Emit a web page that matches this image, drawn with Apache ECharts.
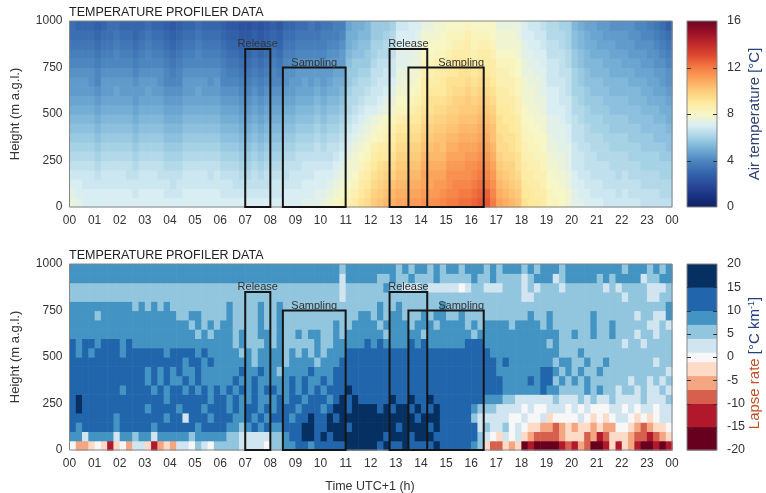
<!DOCTYPE html>
<html>
<head>
<meta charset="utf-8">
<script src="https://cdn.jsdelivr.net/npm/echarts@6/dist/echarts.min.js"></script>
<style>
  html, body { margin: 0; padding: 0; background: #ffffff; }
  #chart { width: 766px; height: 493px; }
</style>
</head>
<body>
<div id="chart"></div>
<script>
const FONT = '"Liberation Sans", Arial, Helvetica, sans-serif';

// Grid of the profiler: quarter-hour columns, 50 m layers
const hoursPerColumn = 0.25;
const layerDepth = 50;

// Air temperature, one string per quarter-hour column (00:00 first),
// lowest layer first; each character is a temperature in 0.25 degC steps.
const tempCode = '0123456789ABCDEFGHIJKLMNOPQRSTUVWXYZabcdefghijklmnopqrstuvwxyz';
const tempColumns = [
  // 00 h
  'UTSRQPONMLKJIIHGFEDD', 'TSSRQPONMLKJIIHGFEDC', 'SSRRQPONMLKJIIHGFEDC', 'SSRRQPONMLKJIHHGFEDC',
  // 01 h
  'SSRQPONMLKJIHGGFEDCB', 'SSRRQPONMLKJIIHGFEDC', 'SSRRQPONMLKJIIHGFEDD', 'SSRRQPONMLKJJIHGGFED',
  // 02 h
  'SSRRQPONMLKJIIHGFEDC', 'SSRQQPONMLKJIIHGFEDC', 'SRRQPONMLKJIIHGFEDCC', 'SSRRQPONMLKJIIHGFEDC',
  // 03 h
  'SSRRQPONMLKJJIHGGFED', 'SSRRQPONMLKJIIHGFEDC', 'SSRQQPONMLKJIHHGFEDC', 'SRRQPONMLKJIHGGFEDCB',
  // 04 h
  'SRQQPONMLKJIHGFEDCBA', 'SRRQPONMLKJIHGGFEDCB', 'SSRRQPONMLKJIIHGFEDC', 'SSRRQPONMLKJIIHGFEDC',
  // 05 h
  'SSRRQPONMLKJJIHGGFED', 'SSRRQPONMLKJIIHGFEDC', 'SSRQQPONMLKJIHHGFEDC', 'SSRRQPONMLKJIIHGFEDC',
  // 06 h
  'SRRQPONMLKJIHGGFEDCB', 'SRRQPONMLKJIHGFEDCBA', 'SRQQPONMLKJIHGFEDCBA', 'SRQPONMLKJIHGFEDCBA9',
  // 07 h
  'SRQPONMLKJIHGFEDCBA9', 'SRQQPONMLKJIHGFEDCBA', 'SRQPONMLKJIHGFEDCBA9', 'SRQQPONMLKJIHGFEDCBA',
  // 08 h
  'SRRQPONMLKJIHGGFEDCB', 'SRRQPONMLKJIHGFEDCBA', 'SSRQQPONMLKJIHHGFEDC', 'SSRRQPONMLKJIIHGFEDC',
  // 09 h
  'SSRRQQPONMLKJIIHGFED', 'TSSRRQPONMLKJJIHGFED', 'TSSRRQPONMLKJIIHGFEE', 'TTSSRQQPONMLKJIHGFED',
  // 10 h
  'UTSSRQPONMLKJIIHGFFE', 'VUTSRQQPONMLKJIIHGFE', 'WVUTSRQPONMLKKJIHGFF', 'XWVUTSRQPONMLKJIIHGF',
  // 11 h
  'YXWVVUTSRQPPONNMLKKJ', 'ZYXWVVUTSRQPPONNMLKK', 'baZYXWVUTSRQPPONMMLK', 'cbaZYXWVUTSRQPONNMLL',
  // 12 h
  'edcbaZYWVUSRRQQPOONN', 'fedcbaZXWVTSRRQQPONN', 'gfedcaZYXWUTSRRQPPON', 'hgfdcbaZYXVUTSRRQPPO',
  // 13 h
  'ihgfedcbaYXWVUUTTSSR', 'ihgfedcbaZXWVVUTTSSR', 'jihgfedcbaYXWVVUTTSS', 'jihgfedcbaZYXWVUUTTS',
  // 14 h
  'kjiihgfedcbaZZYXWVVU', 'kjiihgfedcbbaZYXWWVU', 'kjjihggfedcbaZZYXWVV', 'lkjihgffedcbaaZYXWWV',
  // 15 h
  'mlkkjihgfedcbbaZYXXW', 'mllkjihgfeddcbaaZYXW', 'nmlkjiihgfedcbbaZYXW', 'nmlkkjihgfeedcbaZZYX',
  // 16 h
  'onmlkjihgfedcbaZYXXW', 'ponmlkjihgfedcbaZYXW', 'pomlkjihgfedcbaZZYXW', 'mlkjihgffedcbaZZYXWW',
  // 17 h
  'ihgfedccbbaZZYYXWVVU', 'hgfedccbbaaZZYYXWVVU', 'gfeddcbbaaZZYYXXWVVU', 'fedcbbaaZZYYXXWWVVUU',
  // 18 h
  'baaZZYYXXWWVVVUUTTSS', 'aaZZYYXXWWVVVUUTTSSR', 'aZZYYXXWWVVUUUTTSSRR', 'ZZYYXXWWVVUUTTTSSRRQ',
  // 19 h
  'XXWWVVUUTTSSSRRRQQPP', 'XWWVVUUTTTSSSRRRQQPP', 'WWVVUUTTTSSRRRQQQPPO', 'VVUUTTTSSRRRQQQPPOOO',
  // 20 h
  'TTSSRRRQQQPPOOONNMML', 'TSSRRRQQQPPOONNMMLLK', 'SSRRQQQPPOONNMMLLKKJ', 'SRRQQQPPOONNMMLLKKJJ',
  // 21 h
  'SRRQQPPPOONNMMLLKJJI', 'RRQQQPPOONNMMLLKKJII', 'RRQQPPOONNMMLLKKJJIH', 'RQQPPPOONNMMLLKKJIIH',
  // 22 h
  'RRQQPPOONNMMLLKJJIIH', 'RQQPPOONNMMLLKKJIIHH', 'RQQPPOONNMMLLKJJIHHG', 'QQPPOONNMMLLKKJIIHGG',
  // 23 h
  'QQPPOONNMMLKKJJIHHGF', 'QQPPOONMMLLKJJIHHGFE', 'QPPOONNMMLKKJIIHGFED', 'QPPOONMMLKKJIHHGFEDB'
];

// Lapse-rate class per 50 m layer (0-50 m first), four quarter-hours per group
const lapseRows = [
  'fdde febe fdgg ebde dggf hgfh hhhg gggf hhii jjij jjjj kkkk kjkj jkjj jjkj jjjj ihec cede abaa aabc bdca abeb edba abab',
  'iigi iiig iihi igii iiih iiii ihhg gggg hhij jkkj kjkk kkkk kkjk kkjk kkjj jjjj jhgf egfg edcc ccde eecd bcee edcc bcde',
  'jijj jjji jjjj jijj jjjj ijjj jiih ijij iijj jkkj jkkk jkkk kkkk jkkk kjkj jjjj jghg ghfg feed dcde deed eddf fedc deef',
  'jjjj jjji jjjj jjji jjgj jjij jjii jiji jjji jjkj jkjk kkkk kkkk kkkj kkkj jjjj hggg ggff gffg efff fgfe fefg gfef efgg',
  'jkjj jjjj jjjj ijjj jijj jijj jiji jjij ijjj ijjj ijkk jkkk kjkj kkjk jjkj jjjj ihhh gggg fgff gggf gfgf ffgg fgfg gfgg',
  'jkjj jjjj jjjj jjji jjjj jjij jiji ijii ijij jijj jijk jkjj jjjk jjkj jkjj jjjj jjii ihhg gggg ghgg ghgh gghg gggh gggh',
  'jjjj jjjj ijjj jiji jjij ijij ijij ijij jiij ijij ijjj kjjj jjjj jjjj jjjj jjjj jjjj jiii iiij iihh hhih ihhg hhgh gghg',
  'jjjj jjjj jjjj ijij iiji jiii iiji ijii iiij ijii jijj jjjj jjjj jjjj jjjj jjjj jjjj jiii ijij jhih ihih hhhh hghh ghgh',
  'jjjj jjjj jjjj ijij ijii jiii iiij iiji ihii iiji iijj jjjj jjjj jjjj jjjj jjjj jjjj iiii iiij jihi hihh ihhh hhhh hhhg',
  'jjjj jjjj jjjj jjjj jjij jiji iiii ihii iihi iiih iiij jjjj jjjj jjjj jjjj jjjj jjjj ijii iiii ihii hhih hihh hhhh hghh',
  'jiji jjjj ijjj jjji jjjj ijii iiih ihii iihi hihi hiii jjjj jjjj jjjj jjjj jjjj jjji iiii iiii iihh hihh hhhh hhhh hhhh',
  'jijj ijjj ijii iiii iiii iiii iihi hhhi hihh hhhi hhii iiij ijii iiji jiii iiij jjii iiii iiii hihh hhhh hhhh ghhg hhhh',
  'iiii iiii iiii iiii iiii hihi iihi hhii hihh ihii hhih iiii iihi iiii hiii iiii hiii iiii iiii iihh ihhi hhih hhgh hghh',
  'iiii iiii iiii iiii iiih ihih iihh hhih hihh hhhh hhih hiii ihii iihi iihi iiih ihii iihi iiih ihhh hhhi hhih hhhh gghg',
  'iiii hiii iiii iiii ihhi ihhh hihh hhih hihh hhhh hhhh hhii hihi ihhh ihii hhih hhhh hhhh hihh ihhh hhhi hhhh hhgh hggi',
  'iiii iiii iihi hihi hhhh hhhh hihh hhih hihh hhhh hhhh hhhh hihh ihhh hhhi hhhh hhhh hhhh hhhh hhhh hhhh hhhh hhhh hhhi',
  'hhhh hhhh hhhh hhhh hhhh hhhh hhhh hhhh hhhh hhhh hhhg hhhh hhhh hhhh hhhh hhhh hhhh hhhh gghh hhhh hhhh hhhh ghhh gghh',
  'hhhh hhhh hhhh hhhh hhhh hhhh hhhh hhhh hhhh hhhh hhhg hhhh hhih hggg hggg ggfg hhgg ghhh ghgh hhgh hhhh hghg hhhh gggh',
  'iiii iiii iiii iiii iiii iiii iiii iiii iiii iiii iiig iiii ihhi hhih hhih hhhh ihhi hhhh ghii ighi iiii hihi iiig hhii',
  'iiii iiii iiii iiii iiii iiii iiii iiii iiii iiii iiih iiii iiii hihi ihih iihi iihi hiii hihi iihi iiii iiii hiii hihi'
];

// Representative lapse rate (degC per km) of each class letter
const lapseClassValue = {
  a: -17.5, b: -12.5, c: -8.5, d: -5.5, e: -2.5, f: 0,
  g: 2.5, h: 5.5, i: 8.5, j: 12.5, k: 17.5
};

// Colour scales
const tempColors = [
  '#0d2360', '#1c3383', '#2a4b9b', '#3567ad', '#4d87c0', '#74aed5', '#a6d2e6',
  '#d9eef3', '#f7f6c6', '#fee99d', '#fdcb7a', '#fba55c', '#f47c43', '#e04a30',
  '#c12a2a', '#9a1228', '#6b0620'
];
const lapseBounds = [-20, -15, -10, -7, -4, -1, 1, 4, 7, 10, 15, 20];
const lapseColors = [
  '#67001f', '#b2182b', '#d6604d', '#f4a582', '#fddbc7', '#f7f7f7',
  '#d1e5f0', '#92c5de', '#4393c3', '#2166ac', '#053061'
];

// Inner tick marks on the colour bars
const tempBarTicks = [4, 8, 12];
const lapseBarTicks = [-15, -10, -5, 0, 5, 10, 15];

// Tracer release and sampling periods (hours, top height in m, label centre hour)
const boxes = [
  { label: 'Release',  start: 7,     end: 8,     top: 850, labelAt: 7.5 },
  { label: 'Sampling', start: 8.5,   end: 11,    top: 750, labelAt: 9.75 },
  { label: 'Release',  start: 12.75, end: 14.25, top: 850, labelAt: 13.5 },
  { label: 'Sampling', start: 13.5,  end: 16.5,  top: 750, labelAt: 15.6 }
];

// ---- build series data ----
const tempData = [];
tempColumns.forEach(function (col, c) {
  if (col.length !== 20) throw new Error('temperature column ' + c + ' has ' + col.length + ' layers');
  for (let k = 0; k < col.length; k++) {
    const idx = tempCode.indexOf(col[k]);
    tempData.push([c * hoursPerColumn, k * layerDepth, idx * 0.25]);
  }
});

const lapseData = [];
lapseRows.forEach(function (row, k) {
  const cells = row.replace(/\s+/g, '');
  if (cells.length !== 96) throw new Error('lapse row ' + k + ' has ' + cells.length + ' cells');
  for (let c = 0; c < cells.length; c++) {
    lapseData.push([c * hoursPerColumn, k * layerDepth, lapseClassValue[cells[c]]]);
  }
});

// ---- renderers ----
function cellRenderer(params, api) {
  const x = api.value(0), y = api.value(1);
  const p0 = api.coord([x, y + layerDepth]);
  const p1 = api.coord([x + hoursPerColumn, y]);
  return {
    type: 'rect',
    shape: { x: p0[0], y: p0[1], width: p1[0] - p0[0] + 0.6, height: p1[1] - p0[1] + 0.6 },
    style: { fill: api.visual('color') },
    silent: true
  };
}

function boxRenderer(params, api) {
  const p0 = api.coord([api.value(0), api.value(2)]);
  const p1 = api.coord([api.value(1), 0]);
  const pl = api.coord([api.value(3), api.value(2)]);
  return {
    type: 'group',
    children: [
      {
        type: 'rect',
        shape: { x: p0[0], y: p0[1], width: p1[0] - p0[0], height: p1[1] - p0[1] },
        style: { fill: 'none', stroke: '#151515', lineWidth: 2 }
      },
      {
        type: 'text',
        x: pl[0], y: pl[1] + 0.5,
        style: {
          text: boxes[params.dataIndex].label,
          fill: '#333333',
          font: '11px ' + FONT,
          align: 'center',
          verticalAlign: 'bottom'
        }
      }
    ]
  };
}

function frameRenderer(params, api) {
  const p0 = api.coord([api.value(0), api.value(3)]);
  const p1 = api.coord([api.value(1), api.value(2)]);
  return {
    type: 'rect',
    shape: { x: p0[0], y: p0[1], width: p1[0] - p0[0], height: p1[1] - p0[1] },
    style: { fill: 'none', stroke: '#858585', lineWidth: 1 },
    silent: true
  };
}

// Frame of a colour bar with short inner ticks on both sides
function barFrameRenderer(ticks) {
  return function (params, api) {
    const p0 = api.coord([api.value(0), api.value(3)]);
    const p1 = api.coord([api.value(1), api.value(2)]);
    const children = [{
      type: 'rect',
      shape: { x: p0[0], y: p0[1], width: p1[0] - p0[0], height: p1[1] - p0[1] },
      style: { fill: 'none', stroke: '#858585', lineWidth: 1 }
    }];
    ticks.forEach(function (t) {
      const y = Math.round(api.coord([0, t])[1]) + 0.5;
      children.push({ type: 'line', shape: { x1: p0[0], y1: y, x2: p0[0] + 4, y2: y },
        style: { stroke: '#333333', lineWidth: 1 } });
      children.push({ type: 'line', shape: { x1: p1[0] - 4, y1: y, x2: p1[0], y2: y },
        style: { stroke: '#333333', lineWidth: 1 } });
    });
    return { type: 'group', children: children, silent: true };
  };
}

function tempBarRenderer(params, api) {
  const p0 = api.coord([api.value(0), api.value(3)]);
  const p1 = api.coord([api.value(1), api.value(2)]);
  return {
    type: 'rect',
    shape: { x: p0[0], y: p0[1], width: p1[0] - p0[0], height: p1[1] - p0[1] },
    style: {
      fill: new echarts.graphic.LinearGradient(0, 1, 0, 0, tempColors.map(function (c, i) {
        return { offset: i / (tempColors.length - 1), color: c };
      }))
    }
  };
}

function lapseBarRenderer(params, api) {
  const p0 = api.coord([api.value(0), api.value(3)]);
  const p1 = api.coord([api.value(1), api.value(2)]);
  return {
    type: 'rect',
    shape: { x: p0[0], y: p0[1], width: p1[0] - p0[0], height: p1[1] - p0[1] + 0.5 },
    style: { fill: lapseColors[params.dataIndex] }
  };
}

// ---- axes ----
const labelStyle = { color: '#333333', fontFamily: FONT, fontSize: 12 };

function timeAxis(gridIndex) {
  return {
    type: 'value', gridIndex: gridIndex, min: 0, max: 24, interval: 1,
    axisLine: { show: false },
    axisTick: { show: false },
    splitLine: { show: false },
    axisLabel: Object.assign({}, labelStyle, {
      margin: 8, showMinLabel: true, showMaxLabel: true,
      formatter: function (v) { return String(v % 24).padStart(2, '0'); }
    })
  };
}
function heightAxis(gridIndex) {
  return {
    type: 'value', gridIndex: gridIndex, min: 0, max: 1000, interval: 250,
    axisLine: { show: false }, axisTick: { show: false }, splitLine: { show: false },
    axisLabel: Object.assign({}, labelStyle, {
      margin: 7,
      formatter: function (v) { return String(v); }
    })
  };
}
function barXAxis(gridIndex) {
  return { type: 'value', gridIndex: gridIndex, min: 0, max: 1, show: false };
}
function barYAxis(gridIndex, min, max, interval) {
  return {
    type: 'value', gridIndex: gridIndex, min: min, max: max, interval: interval,
    position: 'right',
    axisLine: { show: false },
    splitLine: { show: false },
    axisTick: { show: false },
    axisLabel: Object.assign({}, labelStyle, {
      margin: 10, fontSize: 12.5,
      formatter: function (v) { return String(v); }
    })
  };
}

const grids = [
  { left: 69.5, top: 21,  width: 602.5, height: 186 },
  { left: 69.5, top: 264, width: 602.5, height: 186 },
  { left: 687,  top: 21,  width: 30,    height: 186 },
  { left: 687,  top: 264, width: 30,    height: 186 }
];

const option = {
  animation: false,
  backgroundColor: '#ffffff',
  grid: grids,
  xAxis: [timeAxis(0), timeAxis(1), barXAxis(2), barXAxis(3)],
  yAxis: [
    heightAxis(0), heightAxis(1),
    barYAxis(2, 0, 16, 4),
    barYAxis(3, -20, 20, 5)
  ],
  visualMap: [
    {
      type: 'continuous', show: false, seriesIndex: 0, dimension: 2,
      min: 0, max: 16, inRange: { color: tempColors }
    },
    {
      type: 'piecewise', show: false, seriesIndex: 1, dimension: 2,
      pieces: lapseColors.map(function (c, i) {
        return { min: lapseBounds[i], max: lapseBounds[i + 1], color: c };
      })
    }
  ],
  series: [
    { name: 'Air temperature', type: 'custom', xAxisIndex: 0, yAxisIndex: 0,
      renderItem: cellRenderer, data: tempData, encode: { x: 0, y: 1 }, z: 1 },
    { name: 'Lapse rate', type: 'custom', xAxisIndex: 1, yAxisIndex: 1,
      renderItem: cellRenderer, data: lapseData, encode: { x: 0, y: 1 }, z: 1 },
    { type: 'custom', xAxisIndex: 0, yAxisIndex: 0, renderItem: frameRenderer,
      data: [[0, 24, 0, 1000]], encode: { x: [0, 1], y: [2, 3] }, z: 3, silent: true },
    { type: 'custom', xAxisIndex: 1, yAxisIndex: 1, renderItem: frameRenderer,
      data: [[0, 24, 0, 1000]], encode: { x: [0, 1], y: [2, 3] }, z: 3, silent: true },
    { type: 'custom', xAxisIndex: 0, yAxisIndex: 0, renderItem: boxRenderer,
      data: boxes.map(function (b) { return [b.start, b.end, b.top, b.labelAt]; }),
      encode: { x: [0, 1], y: 2 }, z: 4, silent: true },
    { type: 'custom', xAxisIndex: 1, yAxisIndex: 1, renderItem: boxRenderer,
      data: boxes.map(function (b) { return [b.start, b.end, b.top, b.labelAt]; }),
      encode: { x: [0, 1], y: 2 }, z: 4, silent: true },
    { type: 'custom', xAxisIndex: 2, yAxisIndex: 2, renderItem: tempBarRenderer,
      data: [[0, 1, 0, 16]], encode: { x: [0, 1], y: [2, 3] }, z: 1, silent: true },
    { type: 'custom', xAxisIndex: 3, yAxisIndex: 3, renderItem: lapseBarRenderer,
      data: lapseColors.map(function (c, i) { return [0, 1, lapseBounds[i], lapseBounds[i + 1]]; }),
      encode: { x: [0, 1], y: [2, 3] }, z: 1, silent: true },
    { type: 'custom', xAxisIndex: 2, yAxisIndex: 2, renderItem: barFrameRenderer(tempBarTicks),
      data: [[0, 1, 0, 16]], encode: { x: [0, 1], y: [2, 3] }, z: 3, silent: true },
    { type: 'custom', xAxisIndex: 3, yAxisIndex: 3, renderItem: barFrameRenderer(lapseBarTicks),
      data: [[0, 1, -20, 20]], encode: { x: [0, 1], y: [2, 3] }, z: 3, silent: true }
  ],
  graphic: [
    { type: 'text', x: 69, y: 12.5, style: { text: 'TEMPERATURE PROFILER DATA', fill: '#222222',
      font: '12.5px ' + FONT, align: 'left', verticalAlign: 'middle' } },
    { type: 'text', x: 69, y: 255.5, style: { text: 'TEMPERATURE PROFILER DATA', fill: '#222222',
      font: '12.5px ' + FONT, align: 'left', verticalAlign: 'middle' } },
    { type: 'text', x: 15, y: 114, rotation: Math.PI / 2, style: { text: 'Height (m a.g.l.)',
      fill: '#333333', font: '13px ' + FONT, align: 'center', verticalAlign: 'middle' } },
    { type: 'text', x: 15, y: 357, rotation: Math.PI / 2, style: { text: 'Height (m a.g.l.)',
      fill: '#333333', font: '13px ' + FONT, align: 'center', verticalAlign: 'middle' } },
    { type: 'text', x: 370, y: 487, style: { text: 'Time UTC+1 (h)', fill: '#333333',
      font: '12.5px ' + FONT, align: 'center', verticalAlign: 'middle' } },
    { type: 'text', x: 755, y: 114, rotation: Math.PI / 2, style: {
      text: '{a|Air temperature }{b|[°C]}', align: 'center', verticalAlign: 'middle',
      rich: {
        a: { fill: '#2f4270', font: '15px ' + FONT },
        b: { fill: '#24407c', font: '15px ' + FONT }
      } } },
    { type: 'text', x: 755, y: 363, rotation: Math.PI / 2, style: {
      text: '{a|Lapse rate }{b|[°C km}{s|-1}{b|]}', align: 'center', verticalAlign: 'middle',
      rich: {
        a: { fill: '#c0502c', font: '15px ' + FONT },
        b: { fill: '#24407c', font: '15px ' + FONT },
        s: { fill: '#24407c', font: '9px ' + FONT, verticalAlign: 'top', lineHeight: 15 }
      } } }
  ]
};

const chart = echarts.init(document.getElementById('chart'), null, { renderer: 'canvas' });
chart.setOption(option);
</script>
</body>
</html>
